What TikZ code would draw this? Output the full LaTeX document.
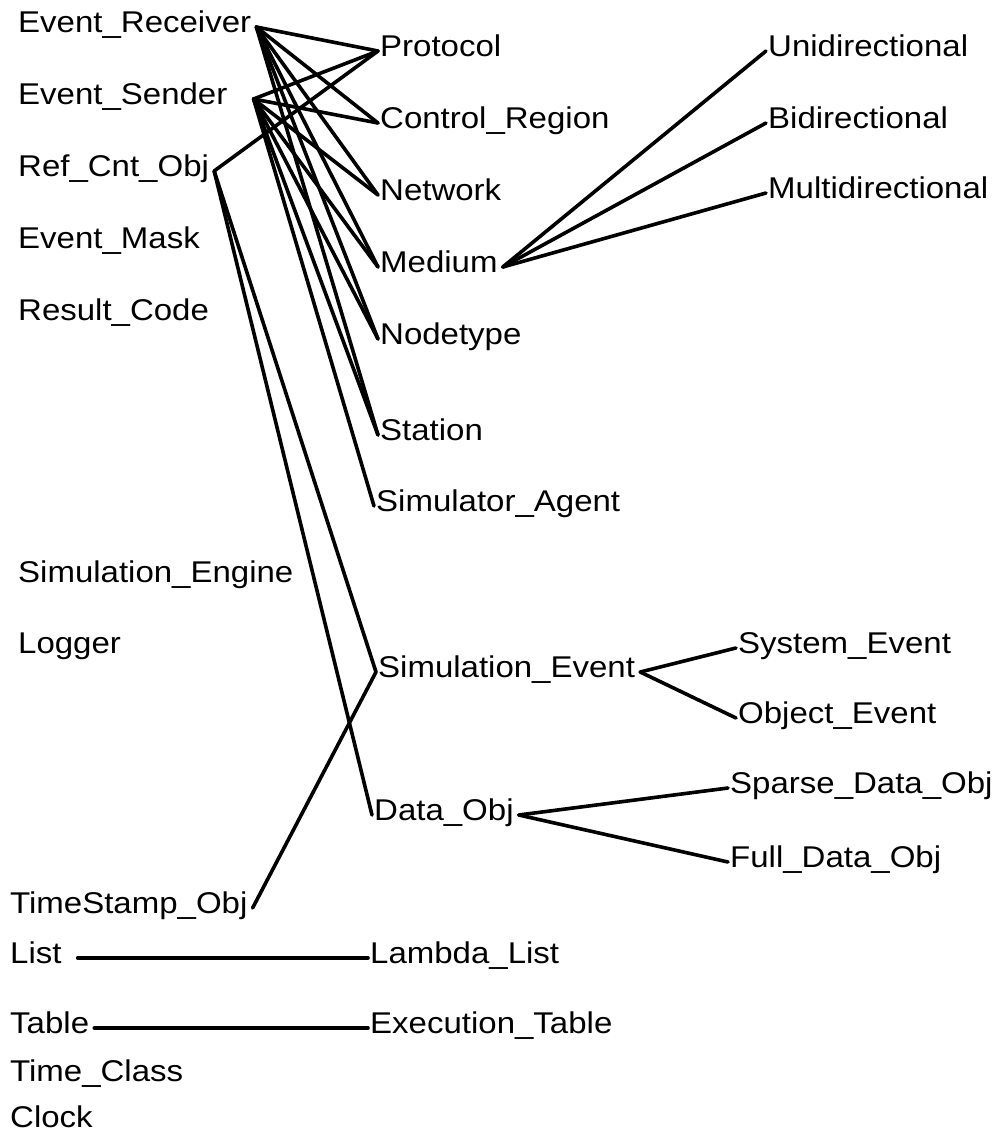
\documentclass[tikz,border=0pt]{standalone}
\usepackage{fontspec}
\setmainfont{Liberation Sans}[FakeStretch=1.1]
\begin{document}
\begin{tikzpicture}[x=1pt,y=-1pt,
  cls/.style={anchor=base west, inner sep=0pt, font=\fontsize{30}{34}\selectfont},
  link/.style={line width=3.6pt, line cap=round, line join=round}]
\useasboundingbox (0,0) rectangle (1004,1136);

% root classes (left column)
\node[cls] (er)  at (18,32)    {Event\_Receiver};
\node[cls] (es)  at (18,104)   {Event\_Sender};
\node[cls] (rc)  at (18,176)   {Ref\_Cnt\_Obj};
\node[cls] (em)  at (18,248)   {Event\_Mask};
\node[cls] (rcd) at (18,320)   {Result\_Code};
\node[cls] (se)  at (18,582)   {Simulation\_Engine};
\node[cls] (lg)  at (18,653)   {Logger};
\node[cls] (ts)  at (10,913)   {TimeStamp\_Obj};
\node[cls] (ls)  at (10,963)   {List};
\node[cls] (tb)  at (10,1033)  {Table};
\node[cls] (tc)  at (10,1081)  {Time\_Class};
\node[cls] (ck)  at (10,1127)  {Clock};

% derived classes (middle column)
\node[cls] (pr)  at (380,56)   {Protocol};
\node[cls] (cr)  at (380,128)  {Control\_Region};
\node[cls] (nw)  at (380,200)  {Network};
\node[cls] (md)  at (380,272)  {Medium};
\node[cls] (nt)  at (380,344)  {Nodetype};
\node[cls] (st)  at (380,440)  {Station};
\node[cls] (sa)  at (376,511)  {Simulator\_Agent};
\node[cls] (sv)  at (378,677)  {Simulation\_Event};
\node[cls] (dob) at (374,820)  {Data\_Obj};
\node[cls] (ll)  at (370,963)  {Lambda\_List};
\node[cls] (et)  at (370,1033) {Execution\_Table};

% leaf classes (right column)
\node[cls] (un)  at (768,56)   {Unidirectional};
\node[cls] (bi)  at (768,128)  {Bidirectional};
\node[cls] (mu)  at (768,198)  {Multidirectional};
\node[cls] (sy)  at (738,653)  {System\_Event};
\node[cls] (ob)  at (738,723)  {Object\_Event};
\node[cls] (sp)  at (730,793)  {Sparse\_Data\_Obj};
\node[cls] (fd)  at (730,867)  {Full\_Data\_Obj};

% inheritance links: parent's right end to child's left end
\foreach \p/\c in {er/pr, er/cr, er/nw, er/md, er/nt, er/st,
                   rc/pr, rc/sv, rc/dob, ts/sv,
                   md/un, md/bi, md/mu,
                   sv/sy, sv/ob, dob/sp, dob/fd, tb/et}
  \draw[link] ([xshift=5pt,yshift=5pt]\p.base east) -- ([xshift=-2pt,yshift=5pt]\c.base west);
\foreach \c in {pr, cr, nw, md, nt, st, sa}
  \draw[link] ([xshift=26pt,yshift=5pt]es.base east) -- ([xshift=-2pt,yshift=5pt]\c.base west);
\draw[link] ([xshift=16pt,yshift=5pt]ls.base east) -- ([xshift=-2pt,yshift=5pt]ll.base west);
\end{tikzpicture}
\end{document}
